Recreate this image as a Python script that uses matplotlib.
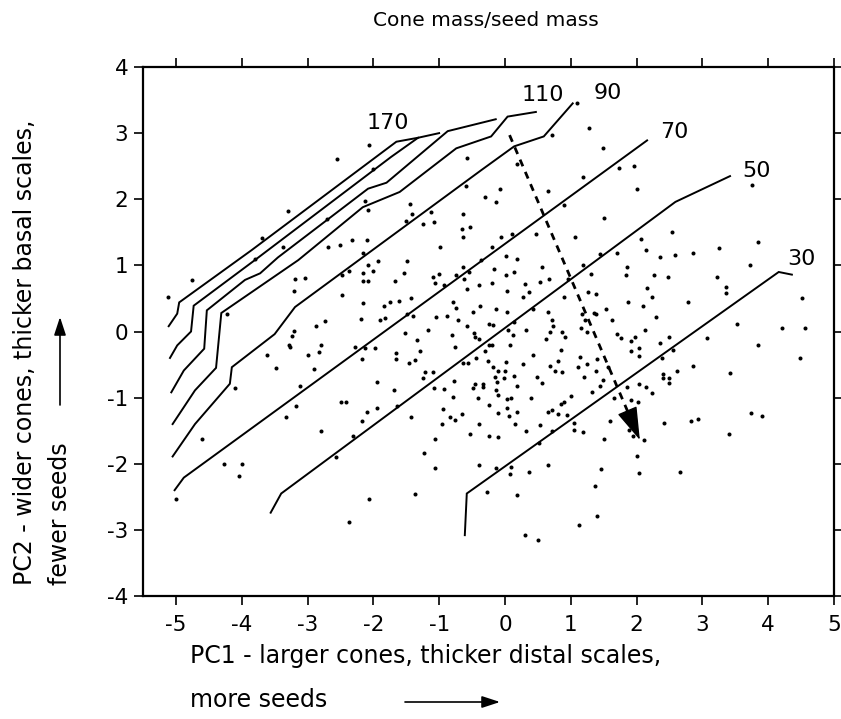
import matplotlib
matplotlib.use("Agg")
import matplotlib.pyplot as plt

plt.rcParams['font.family'] = ['DejaVu Sans']
plt.rcParams['axes.unicode_minus'] = False

# cone mass / seed mass isolines (PC1, PC2 vertices)
iso_170_x = [-5.11, -4.98, -4.95, -3.85, -1.65, -1.32]
iso_170_y = [0.08, 0.27, 0.44, 1.23, 2.87, 2.93]
iso_150_x = [-5.09, -4.98, -4.77, -4.73, -3.80, -1.73, -1.32, -1.00]
iso_150_y = [-0.40, -0.21, 0.00, 0.39, 1.08, 2.64, 2.93, 3.00]
iso_130_x = [-5.07, -4.88, -4.57, -4.53, -3.95, -3.72, -3.45, -2.08, -1.80, -0.87, -0.14]
iso_130_y = [-0.92, -0.59, -0.26, 0.32, 0.78, 0.88, 1.12, 2.16, 2.25, 3.03, 3.21]
iso_110_x = [-5.05, -4.71, -4.39, -4.31, -3.14, -2.16, -1.60, -0.74, -0.21, 0.04, 0.47]
iso_110_y = [-1.40, -0.89, -0.55, 0.28, 1.08, 1.88, 2.11, 2.77, 2.95, 3.25, 3.32]
iso_90_x = [-5.05, -4.71, -4.18, -4.15, -3.50, -3.19, -0.36, 0.14, 0.59, 1.03]
iso_90_y = [-1.89, -1.40, -0.79, -0.54, -0.04, 0.37, 2.44, 2.80, 2.95, 3.45]
iso_70_x = [-5.02, -4.88, 2.16]
iso_70_y = [-2.40, -2.21, 2.89]
iso_50_x = [-3.56, -3.40, 2.59, 3.42]
iso_50_y = [-2.74, -2.45, 1.96, 2.35]
iso_30_x = [-0.61, -0.58, 4.16, 4.36]
iso_30_y = [-3.08, -2.45, 0.90, 0.86]

iso_label_text = ['170', '110', '90', '70', '50', '30']
iso_label_x = [-1.78, 0.57, 1.56, 2.57, 3.83, 4.51]
iso_label_y = [3.15, 3.57, 3.61, 3.02, 2.43, 1.10]

# direction of decreasing cone mass/seed mass
trend_start = (0.07, 2.97)
trend_end = (2.05, -1.64)

# individual cones
pc1 = [
    -5.12, -4.75, -4.23, -3.19, -3.04, -3.21, -2.48, -2.37, -2.16, -2.08, -1.93, -1.49,
    -2.16, -2.16, -2.08, -2.00, -1.67, -1.53, -2.47, -2.16, -1.84, -1.74, -1.61, -1.43,
    -1.09, -1.00, -1.06, -0.92, -0.74, -0.64, -0.62, -0.54, -0.57, -0.39, -0.36, -0.16,
    -0.20, -0.13, -1.49, -1.39, -1.05, -0.88, -0.79, -0.75, -0.71, -0.58, -0.49, -0.38,
    -0.24, -0.18, -2.18, -1.90, -1.82, -2.87, -2.73, -3.20, -3.23, -3.28, -3.27, -2.80,
    -2.82, -3.00, -2.90, -3.61, -3.48, -2.28, -2.12, -1.98, -2.17, -1.66, -1.65, -1.52,
    -1.46, -1.36, -1.34, -1.29, -1.17, -1.22, -1.25, -1.10, -1.08, -0.93, -0.80, -0.76,
    -0.78, -0.64, -0.56, -0.47, -0.46, -0.40, -0.44, -0.31, -0.26, -0.24, -0.19, -0.18,
    -0.15, -0.10, -0.12, -0.14, -0.10, -0.34, -0.33, -0.49, -0.45, -0.41, -0.79, -0.65,
    -0.76, -0.84, -0.94, -0.96, -0.40, -0.24, -0.11, -0.24, -0.10, -0.53, -1.06, -1.23,
    -1.06, -0.39, -0.14, -0.28, -1.36, -2.06, -2.37, -1.43, -1.69, -1.64, -1.94, -1.94,
    -2.10, -2.17, -2.31, -2.49, -2.42, -2.79, -2.57, -3.12, -3.17, -3.33, -4.10, -4.60,
    -4.27, -3.99, -4.04, -5.00, -3.80, -3.37,
    0.01, 0.19, 1.71, 1.45, 2.15, 2.36, 2.59, 2.85, 3.73, 1.86, 1.84, 2.26,
    2.47, 3.22, 3.36, 3.36, 2.78, 4.52, 2.16, 2.23, 1.87, 2.10, 1.62, 1.38,
    1.53, 1.17, 1.25, 1.70, 1.77, 1.91, 1.97, 1.92, 2.03, 2.03, 2.13, 2.30,
    2.35, 2.49, 2.39, 2.55, 2.62, 2.85, 2.40, 2.40, 2.50, 2.50, 3.07, 3.53,
    3.85, 4.21, 4.56, 4.48, 3.42, 3.74, 3.91, 3.41, 2.94, 2.83, 2.41, 1.92,
    2.02, 2.14, 2.24, 2.03, 1.85, 1.66, 1.88, 1.94, 2.11, 2.01, 2.03, 2.66,
    1.46, 1.37, 1.40, 1.12, 0.31, 0.50, 0.18, 0.65, 0.36, 0.09, 0.07, 1.05,
    1.05, 1.19, 1.60, 1.51, 0.71, 0.54, 0.52, 0.32, 0.15, 0.06, 0.18, 0.39,
    0.66, 0.72, 0.81, 0.85, 0.90, 0.94, 1.00, 1.20, 1.32, 1.44, 1.49, 1.11,
    1.14, 1.24, 1.38, 1.40, 1.56, 0.87, 0.76, 0.69, 0.81, 0.85, 0.73, 0.62,
    0.68, 0.71, 0.65, 0.87, 0.92, 1.15, 0.96, 0.90, 1.18, 1.30, 1.26, 1.39,
    1.36, 1.22, 0.49, 0.57, 0.42, 0.28, 0.13, 0.18, 0.09, 0.03, 0.03, 0.00,
    -0.01, 0.02, 0.12, 0.08, 0.32, 0.13, 0.04, 0.03, 0.03, 0.14, 0.37, 0.27,
    0.42, 0.31, 0.56, 0.67, 0.54, 0.01,
    1.09, 0.71, 1.28, 1.49, 0.18, 0.65, -0.07, -0.14, -0.31, 0.89, 1.18, 1.74,
    1.96, 2.00, 1.50, 1.07, 0.47, 0.10, -0.06, -0.19, 2.54, 2.07, 3.25, 3.85,
    3.75,
    -2.07, -2.55, -0.58, -3.29, -3.69, -2.00, -2.13, -2.08, -2.71, -1.45, -1.41, -1.13,
    -1.24, -1.08, -1.50, -0.64, -0.66, -0.53, -0.63, -0.59, -0.98, -2.33, -2.50, -2.10,
    -2.69,
]
pc2 = [
    0.52, 0.78, 0.27, 0.80, 0.81, 0.61, 0.86, 0.92, 1.18, 1.00, 1.07, 1.06,
    0.88, 0.77, 0.77, 0.92, 0.76, 0.88, 0.55, 0.43, 0.38, 0.44, 0.46, 0.51,
    0.82, 0.87, 0.74, 0.71, 0.85, 0.98, 0.80, 0.90, 0.64, 0.70, 1.08, 0.95,
    0.74, 0.34, 0.26, 0.23, 0.22, 0.23, 0.44, 0.35, 0.17, 0.09, 0.29, 0.39,
    0.12, 0.10, 0.19, 0.17, 0.20, 0.09, 0.16, 0.01, -0.07, -0.20, -0.24, -0.20,
    -0.31, -0.36, -0.57, -0.36, -0.55, -0.24, -0.25, -0.25, -0.42, -0.32, -0.41, -0.03,
    -0.48, -0.43, -0.13, -0.29, 0.03, -0.62, -0.71, -0.62, -0.86, -0.87, -0.05, -0.24,
    -0.75, -0.48, -0.48, -0.02, -0.08, -0.11, -0.40, -0.29, -0.44, -0.21, -0.21, -0.54,
    -0.69, -0.60, -0.77, -0.89, -0.96, -0.79, -0.84, -0.85, -0.80, -1.00, -0.99, -1.25,
    -1.34, -1.30, -1.17, -1.40, -1.40, -1.11, -1.23, -1.58, -1.59, -1.55, -1.63, -1.84,
    -2.06, -2.02, -2.07, -2.42, -2.45, -2.54, -2.88, -1.30, -0.89, -1.13, -0.77, -1.16,
    -1.21, -1.35, -1.58, -1.06, -1.06, -1.50, -1.90, -0.83, -1.12, -1.29, -0.86, -1.62,
    -2.00, -2.01, -2.19, -2.53, 1.10, 1.28,
    1.14, 1.10, 1.19, 1.17, 1.23, 1.13, 1.15, 1.19, 1.01, 0.97, 0.85, 0.86,
    0.83, 0.82, 0.67, 0.58, 0.44, 0.50, 0.66, 0.52, 0.45, 0.39, 0.17, 0.27,
    0.34, 0.27, 0.00, -0.04, -0.10, -0.14, -0.08, -0.29, -0.25, -0.37, 0.03, 0.22,
    -0.17, -0.08, -0.40, -0.28, -0.59, -0.52, -0.64, -0.70, -0.70, -0.78, -0.10, 0.12,
    -0.21, 0.05, 0.05, -0.40, -0.63, -1.23, -1.28, -1.55, -1.32, -1.36, -1.38, -1.04,
    -1.07, -0.84, -0.93, -0.79, -0.84, -1.00, -1.49, -1.58, -1.64, -1.89, -2.14, -2.13,
    -2.08, -2.33, -2.79, -2.92, -3.07, -3.15, -2.48, -2.02, -2.12, -2.05, -2.15, -1.38,
    -1.49, -1.52, -1.36, -1.62, -1.50, -1.41, -1.69, -1.50, -1.40, -1.28, -1.21, -1.00,
    -1.22, -1.18, -1.25, -1.09, -1.06, -1.26, -0.97, -0.69, -0.92, -0.83, -0.73, -0.54,
    -0.38, -0.49, -0.59, -0.41, -0.54, -0.61, -0.59, -0.52, -0.45, -0.28, 0.08, -0.12,
    0.00, 0.18, 0.29, 0.00, -0.08, 0.05, 0.79, 0.52, 1.01, 0.87, 0.60, 0.57,
    0.28, 0.17, -0.69, -0.78, -0.35, -0.49, -0.67, -0.82, -1.00, -1.15, -1.02, -0.60,
    -0.71, -0.46, -0.05, -0.20, 0.02, 0.14, 0.03, 0.29, 0.61, 0.90, 0.59, 0.52,
    0.34, 0.72, 0.97, 0.80, 0.75, 0.86,
    3.46, 2.97, 3.07, 2.78, 2.53, 2.13, 2.16, 1.96, 2.04, 1.92, 2.34, 2.48,
    2.50, 2.15, 1.71, 1.43, 1.47, 1.48, 1.43, 1.28, 1.50, 1.40, 1.26, 1.35,
    2.21,
    2.82, 2.61, 2.62, 1.82, 1.42, 2.46, 1.97, 1.84, 1.70, 1.93, 1.77, 1.81,
    1.62, 1.66, 1.67, 1.77, 1.55, 1.58, 1.43, 2.20, 1.28, 1.39, 1.31, 1.38,
    1.28,
]

fig = plt.figure(figsize=(8.41, 7.19), dpi=100)
ax = fig.add_axes([143 / 841, 123 / 719, 691 / 841, 529 / 719])

ax.plot(pc1, pc2, 'o', color='black', ms=2.9, mew=0, zorder=3)

for xs, ys in [(iso_170_x, iso_170_y), (iso_150_x, iso_150_y), (iso_130_x, iso_130_y),
               (iso_110_x, iso_110_y), (iso_90_x, iso_90_y), (iso_70_x, iso_70_y),
               (iso_50_x, iso_50_y), (iso_30_x, iso_30_y)]:
    ax.plot(xs, ys, color='black', lw=1.4, solid_joinstyle='miter', zorder=2)

for t, x, y in zip(iso_label_text, iso_label_x, iso_label_y):
    ax.text(x, y, t, fontsize=16, ha='center', va='center')

# dashed trend arrow: shaft up to the head base, then a filled head
frac = 0.91
base = (trend_start[0] + frac * (trend_end[0] - trend_start[0]),
        trend_start[1] + frac * (trend_end[1] - trend_start[1]))
ax.plot([trend_start[0], base[0]], [trend_start[1], base[1]], color='black',
        lw=2.0, ls=(0, (2.6, 2.2)), zorder=4)
ax.annotate('', xy=trend_end, xytext=base,
            arrowprops=dict(arrowstyle='-|>,head_length=1.05,head_width=0.33',
                            mutation_scale=20, color='black', lw=1.0,
                            shrinkA=0, shrinkB=0), zorder=4)

ax.set_xlim(-5.5, 5)
ax.set_ylim(-4, 4)
ax.set_xticks(range(-5, 6))
ax.set_yticks(range(-4, 5))
ax.tick_params(direction='out', length=6.5, width=1.2, top=True, right=True,
               labelsize=15.5, color='black')
ax.tick_params(axis='x', pad=7)
ax.tick_params(axis='y', pad=4)
for s in ax.spines.values():
    s.set_linewidth(1.6)

fig.text(486 / 841, 1 - 20 / 719, 'Cone mass/seed mass', fontsize=14.5,
         ha='center', va='center')

# axis captions with hand-drawn arrows
fig.text(190 / 841, 1 - 656 / 719, 'PC1 - larger cones, thicker distal scales,',
         fontsize=17, ha='left', va='center')
fig.text(190 / 841, 1 - 700 / 719, 'more seeds', fontsize=17, ha='left', va='center')
ax.annotate('', xy=(500, 17), xytext=(405, 17), xycoords='figure pixels',
            arrowprops=dict(arrowstyle='-|>,head_length=0.55,head_width=0.18',
                            mutation_scale=20, color='black', lw=1.2,
                            shrinkA=0, shrinkB=0), annotation_clip=False)

fig.text(25 / 841, 1 - 585 / 719, 'PC2 - wider cones, thicker basal scales,',
         fontsize=17, rotation=90, ha='center', va='bottom')
fig.text(60 / 841, 1 - 585 / 719, 'fewer seeds', fontsize=17, rotation=90,
         ha='center', va='bottom')
ax.annotate('', xy=(60, 719 - 317), xytext=(60, 719 - 405), xycoords='figure pixels',
            arrowprops=dict(arrowstyle='-|>,head_length=0.55,head_width=0.18',
                            mutation_scale=20, color='black', lw=1.2,
                            shrinkA=0, shrinkB=0), annotation_clip=False)

fig.savefig('out.png', dpi=100, facecolor='white')
